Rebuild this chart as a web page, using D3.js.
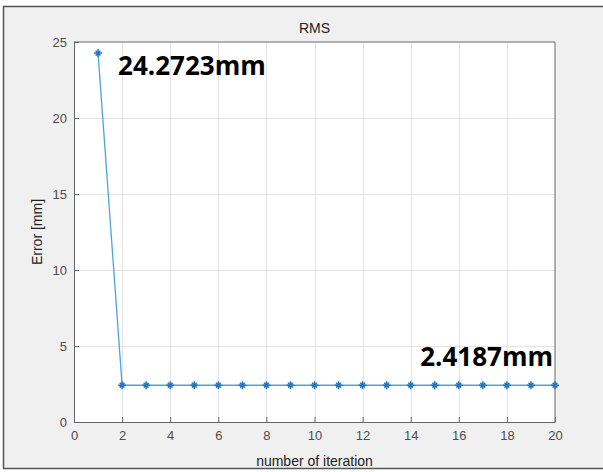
<!DOCTYPE html>
<html>
<head>
<meta charset="utf-8">
<script src="https://cdn.jsdelivr.net/npm/d3@7"></script>
<style>
  body { margin: 0; background: #fff; }
  svg { display: block; }
</style>
</head>
<body>
<script>
// values
const iterations = d3.range(1, 21);
const rmsError = [24.2723, 2.4187, 2.4187, 2.4187, 2.4187, 2.4187, 2.4187, 2.4187, 2.4187, 2.4187,
                  2.4187, 2.4187, 2.4187, 2.4187, 2.4187, 2.4187, 2.4187, 2.4187, 2.4187, 2.4187];
const xTicks = [0, 2, 4, 6, 8, 10, 12, 14, 16, 18, 20];
const yTicks = [0, 5, 10, 15, 20, 25];
const notes = [
  {i: 0, text: "24.2723mm"},
  {i: 19, text: "2.4187mm"}
];

const width = 603, height = 472;
const margin = {top: 42, right: 48, bottom: 50, left: 74};

const svg = d3.select("body").append("svg")
    .attr("width", width)
    .attr("height", height);

// figure background and frame
svg.append("rect")
    .attr("x", 3.5).attr("y", 6.5)
    .attr("width", width + 10).attr("height", 462)
    .attr("fill", "#f0f0f0")
    .attr("stroke", "#555")
    .attr("stroke-width", 1.5);

const x = d3.scaleLinear().domain([0, 20]).range([margin.left, width - margin.right]);
const y = d3.scaleLinear().domain([0, 25]).range([height - margin.bottom, margin.top]);

// plot area
svg.append("rect")
    .attr("x", x(0)).attr("y", y(25))
    .attr("width", x(20) - x(0)).attr("height", y(0) - y(25))
    .attr("fill", "#fff");

// grid
const grid = svg.append("g").attr("stroke", "#e3e3e3").attr("stroke-width", 1);
grid.selectAll(".gx").data(xTicks.slice(1, -1)).join("line")
    .attr("x1", d => Math.round(x(d)) + 0.5).attr("x2", d => Math.round(x(d)) + 0.5)
    .attr("y1", y(25)).attr("y2", y(0));
grid.selectAll(".gy").data(yTicks.slice(1, -1)).join("line")
    .attr("y1", d => Math.round(y(d)) + 0.5).attr("y2", d => Math.round(y(d)) + 0.5)
    .attr("x1", x(0)).attr("x2", x(20));

// axes (ticks inward, MATLAB style)
const xAxis = d3.axisBottom(x).tickValues(xTicks).tickSizeInner(-5).tickSizeOuter(0).tickPadding(9);
const yAxis = d3.axisLeft(y).tickValues(yTicks).tickSizeInner(-5).tickSizeOuter(0).tickPadding(7);

const gx = svg.append("g").attr("transform", `translate(0,${y(0)})`).call(xAxis);
const gy = svg.append("g").attr("transform", `translate(${x(0)},0)`).call(yAxis);
[gx, gy].forEach(g => {
  g.selectAll("path, line").attr("stroke", "#666").attr("stroke-width", 1);
  g.selectAll("text").attr("fill", "#4d4d4d")
      .style("font-family", "Liberation Sans, Arial, sans-serif").style("font-size", "13px");
});
// top/right box edges
svg.append("path")
    .attr("d", `M${x(0)},${y(25)}H${x(20)}V${y(0)}`)
    .attr("fill", "none").attr("stroke", "#666");

// data line
svg.append("path")
    .datum(iterations)
    .attr("fill", "none")
    .attr("stroke", "#4ea3df")
    .attr("stroke-width", 1.3)
    .attr("d", d3.line().x(d => x(d)).y((d, i) => y(rmsError[i])));

// asterisk markers
const star = svg.append("g").attr("stroke", "#1f74c4").attr("stroke-width", 1.5);
iterations.forEach((d, i) => {
  const cx = x(d), cy = y(rmsError[i]), r = 4;
  const m = star.append("g").attr("transform", `translate(${cx},${cy})`);
  m.append("line").attr("x1", -r).attr("x2", r);
  m.append("line").attr("y1", -r).attr("y2", r);
  m.append("line").attr("x1", -r * 0.6).attr("x2", r * 0.6).attr("y1", -r * 0.6).attr("y2", r * 0.6);
  m.append("line").attr("x1", -r * 0.6).attr("x2", r * 0.6).attr("y1", r * 0.6).attr("y2", -r * 0.6);
});

// annotations
svg.append("text")
    .attr("x", x(iterations[notes[0].i]) + 20)
    .attr("y", y(rmsError[notes[0].i]) + 22)
    .text(notes[0].text)
    .style("font-family", "Open Sans, Noto Sans, sans-serif")
    .style("font-weight", "bold").style("font-size", "26px").attr("fill", "#000");
svg.append("text")
    .attr("x", x(iterations[notes[1].i]) - 2)
    .attr("y", y(rmsError[notes[1].i]) - 19)
    .attr("text-anchor", "end")
    .text(notes[1].text)
    .style("font-family", "Open Sans, Noto Sans, sans-serif")
    .style("font-weight", "bold").style("font-size", "26px").attr("fill", "#000");

// title and labels
svg.append("text")
    .attr("x", (x(0) + x(20)) / 2).attr("y", 33)
    .attr("text-anchor", "middle")
    .text("RMS")
    .style("font-family", "Liberation Sans, Arial, sans-serif").style("font-size", "14px").attr("fill", "#222");
svg.append("text")
    .attr("x", (x(0) + x(20)) / 2).attr("y", 466)
    .attr("text-anchor", "middle")
    .text("number of iteration")
    .style("font-family", "Liberation Sans, Arial, sans-serif").style("font-size", "14px").attr("fill", "#222");
svg.append("text")
    .attr("transform", `translate(42,${(y(0) + y(25)) / 2}) rotate(-90)`)
    .attr("text-anchor", "middle")
    .text("Error [mm]")
    .style("font-family", "Liberation Sans, Arial, sans-serif").style("font-size", "14px").attr("fill", "#222");
</script>
</body>
</html>
